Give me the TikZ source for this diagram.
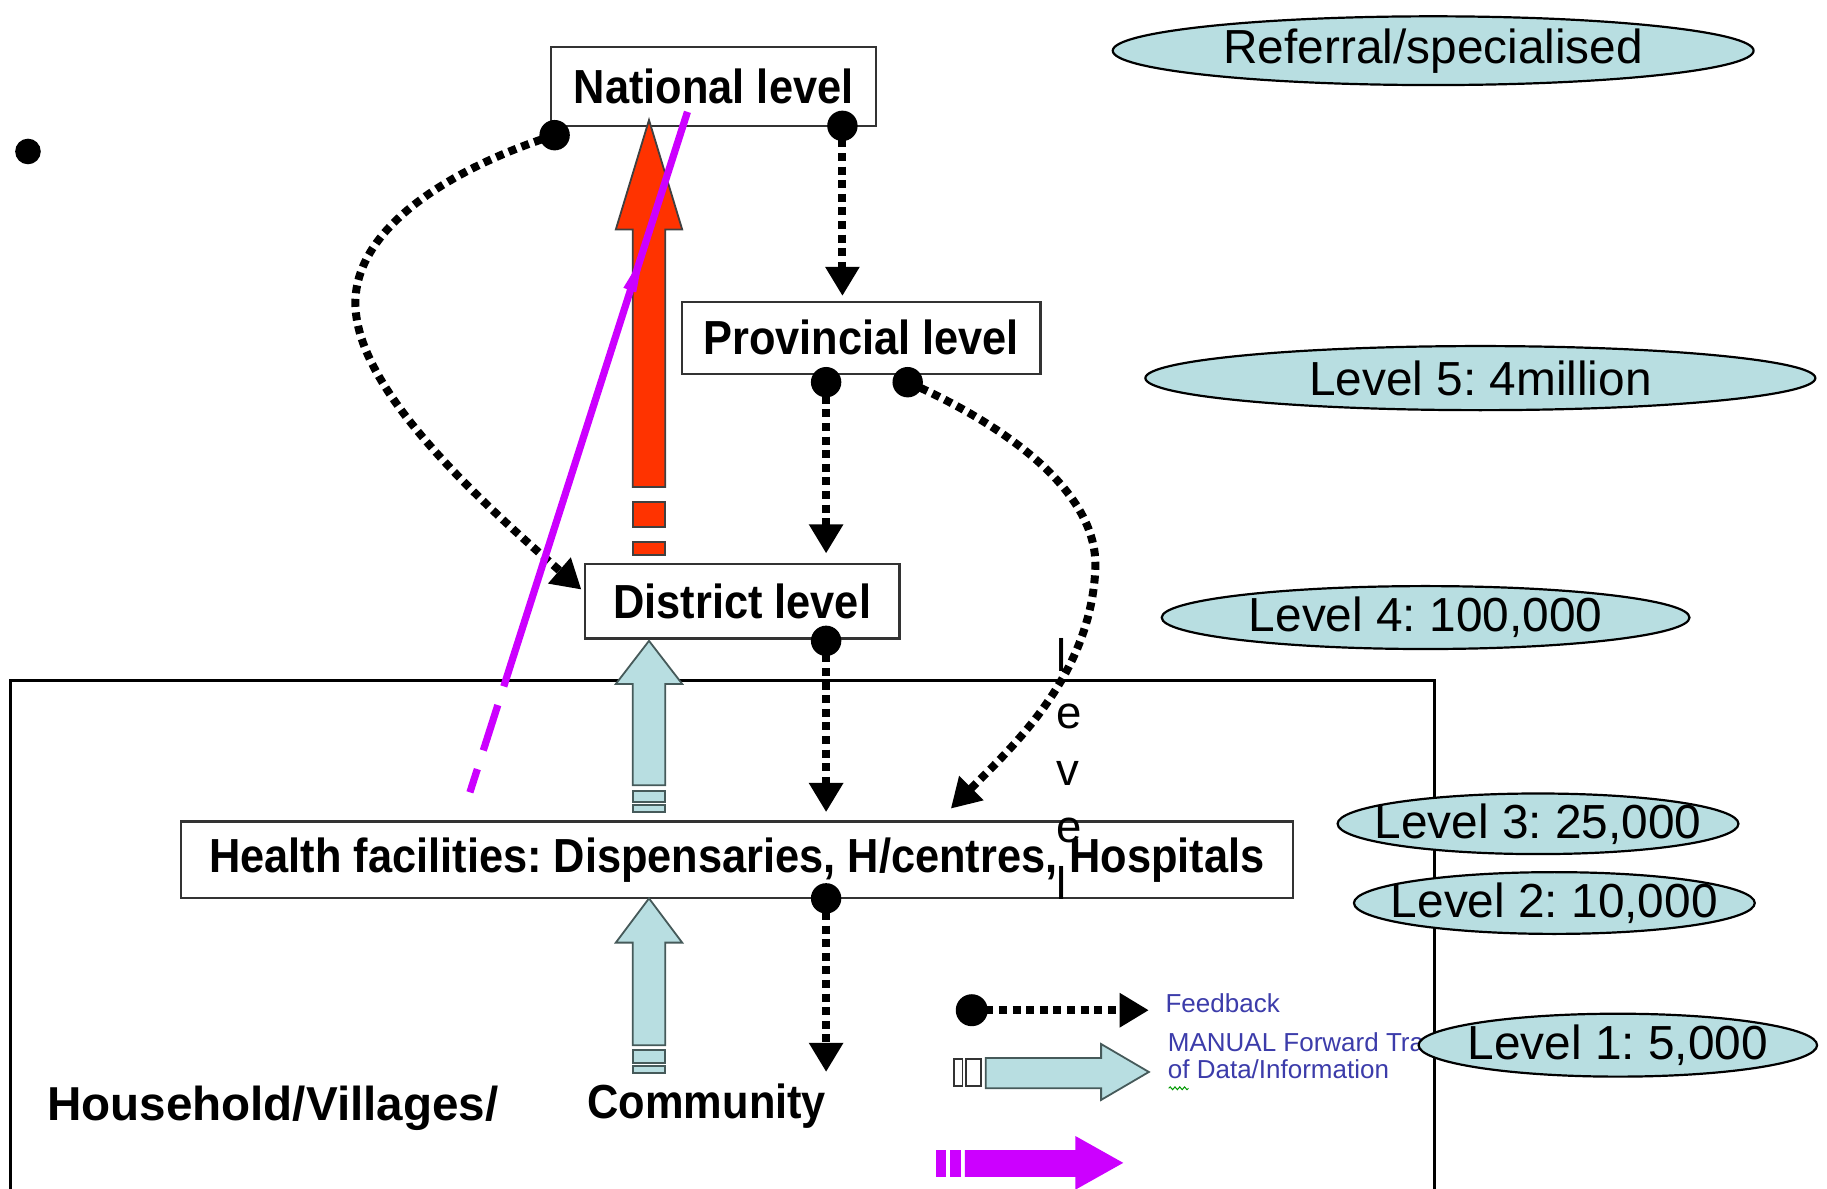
\documentclass[tikz,border=0pt]{standalone}
\usepackage{fontspec}
\setmainfont{Liberation Sans}
\newfontfamily\boxfont{Liberation Sans}[FakeStretch=0.907]
\usetikzlibrary{arrows.meta,shapes.geometric,decorations.pathmorphing}
\definecolor{lteal}{RGB}{184,222,225}
\definecolor{redorange}{RGB}{255,51,0}
\definecolor{magentaline}{RGB}{204,0,255}
\definecolor{legblue}{RGB}{60,60,170}
\definecolor{arrowedge}{RGB}{70,90,90}
\frenchspacing
\begin{document}
\begin{tikzpicture}[x=0.5826pt,y=-0.5826pt,
  lvlbox/.style={draw=black!80, line width=1.1pt, fill=white, inner sep=0pt,
    font=\boxfont\bfseries\fontsize{23.9}{28}\selectfont},
  lvlell/.style={ellipse, draw=black, line width=1.1pt, fill=lteal, inner sep=0pt,
    font=\fontsize{23.9}{28}\selectfont},
  fb/.style={line width=4pt, dash pattern=on 4pt off 2.8pt,
    -{Triangle[width=16.3pt,length=14.6pt]}},
  fbdot/.style={fill=black},
  blockblue/.style={fill=lteal, draw=arrowedge, line width=0.9pt},
  blockred/.style={fill=redorange, draw=black!75, line width=0.9pt},
  magline/.style={magentaline, line width=3.6pt,
    dash pattern=on 301.6pt off 9.8pt on 23.8pt off 9.8pt on 12.2pt},
  legtext/.style={text=legblue, inner sep=0pt, font=\fontsize{13}{13.4}\selectfont}
]
\clip (0,0) rectangle (1568,1020);
\fill[white] (0,0) rectangle (1568,1020);

% outer frame
\draw[line width=1.2pt] (9,584) rectangle (1231,1040);

% bullet
\fill (24,130) circle[radius=6.4pt];

% level boxes
\node[lvlbox, minimum width=279*0.5826pt, minimum height=68*0.5826pt] (nat) at (612.5,74) {National level};
\node[lvlbox, minimum width=308*0.5826pt, minimum height=62*0.5826pt] (prov) at (739,290) {Provincial level};
\node[lvlbox, minimum width=270*0.5826pt, minimum height=64*0.5826pt] (dist) at (637,516) {District level};
\node[lvlbox, minimum width=955*0.5826pt, minimum height=66*0.5826pt] (hf) at (632.5,738) {Health facilities: Dispensaries, H/centres, Hospitals};

% feedback connector end points
\coordinate (natL) at (476,116);
\coordinate (natR) at (723,108);
\coordinate (provTip) at (723,254);
\coordinate (provL) at (709,328);
\coordinate (provR) at (779,328);
\coordinate (distTip) at (709,475);
\coordinate (lcTip) at (499,506);
\coordinate (rcTip) at (816,694);
\coordinate (distD) at (709,550);
\coordinate (hfTip) at (709,697);
\coordinate (hfD) at (709,771);
\coordinate (comTip) at (709,920);

\draw[fb] (natL) .. controls (400,140) and (305,190) .. (305,260)
   .. controls (305,330) and (400,420) .. (lcTip);
\draw[fb] (natR) -- (provTip);
\draw[fb] (provL) -- (distTip);
\draw[fb] (provR) .. controls (830,350) and (945,410) .. (940,490)
   .. controls (935,580) and (870,640) .. (rcTip);
\draw[fb] (distD) -- (hfTip);
\draw[fb] (hfD) -- (comTip);
\foreach \p in {natL,natR,provL,provR,distD,hfD}
  \fill[fbdot] (\p) circle[radius=7.6pt];

% red block arrow (district -> national)
\draw[blockred] (557,103) -- (585.5,197) -- (571,197) -- (571,418) -- (543,418) -- (543,197) -- (528.5,197) -- cycle;
\draw[blockred] (543,431) rectangle (571,452);
\draw[blockred] (543,465) rectangle (571,476);

% blue block arrow (health facilities -> district)
\draw[blockblue] (557,550) -- (585.5,587) -- (571,587) -- (571,674) -- (543,674) -- (543,587) -- (528.5,587) -- cycle;
\draw[blockblue] (543,679) rectangle (571,688);
\draw[blockblue] (543,691) rectangle (571,697);

% blue block arrow (community -> health facilities)
\draw[blockblue] (557,771) -- (585.5,809) -- (571,809) -- (571,897) -- (543,897) -- (543,809) -- (528.5,809) -- cycle;
\draw[blockblue] (543,901) rectangle (571,912);
\draw[blockblue] (543,915) rectangle (571,921);

% magenta line
\coordinate (mTop) at (590,96);
\coordinate (mBot) at (403.3,680);
\draw[magline] (mTop) -- (mBot);
\fill[magentaline] (535,247) -- (546,251) -- (552,219) -- cycle;

% texts
\node[anchor=base west, inner sep=0pt, font=\bfseries\fontsize{23.8}{28}\selectfont] (hh) at (40,962) {Household/Villages/};
\node[anchor=base west, inner sep=0pt, font=\boxfont\bfseries\fontsize{23.9}{28}\selectfont] (com) at (504,960) {Community};
\node[anchor=north west, inner sep=0pt, align=left, font=\fontsize{22.8}{28.5}\selectfont] (lv) at (906,548) {l\\e\\v\\e\\l};

% legend
\coordinate (legDot) at (834,867);
\coordinate (legTip) at (986,867);
\draw[fb] (legDot) -- (legTip);
\fill[fbdot] (legDot) circle[radius=8pt];
\node[legtext, anchor=base west] (fbt) at (1000,869) {Feedback};
\node[legtext, anchor=north west, align=left] (mt) at (1002,886) {MANUAL Forward Transfer\\of Data/Information};
\draw[green!60!black, line width=0.5pt, decorate, decoration={snake, amplitude=0.7pt, segment length=2.4pt}] (1003,934) -- (1020,934);
\draw[blockblue] (986,920) -- (945,896) -- (945,908) -- (846,908) -- (846,934) -- (945,934) -- (945,944) -- cycle;
\draw[fill=white, draw=black!80, line width=0.9pt] (819,909) rectangle (826,932);
\draw[fill=white, draw=black!80, line width=0.9pt] (829,909) rectangle (842,932);
\fill[magentaline] (964,998) -- (923,975) -- (923,987) -- (828,987) -- (828,1010) -- (923,1010) -- (923,1021) -- cycle;
\fill[magentaline] (803,987) rectangle (812,1010);
\fill[magentaline] (815,987) rectangle (825,1010);

% population ellipses
\node[lvlell, minimum width=550*0.5826pt, minimum height=59*0.5826pt] (ref) at (1230,43.5) {\makebox[0pt][c]{Referral/specialised}};
\node[lvlell, minimum width=575*0.5826pt, minimum height=55*0.5826pt] (l5) at (1270.5,324.5) {\makebox[0pt][c]{Level 5: 4million}};
\node[lvlell, minimum width=453*0.5826pt, minimum height=54*0.5826pt] (l4) at (1223.5,530) {\makebox[0pt][c]{Level 4: 100,000}};
\node[lvlell, minimum width=344*0.5826pt, minimum height=52*0.5826pt] (l3) at (1320,707) {\makebox[0pt][c]{Level 3: 25,000}};
\node[lvlell, minimum width=344*0.5826pt, minimum height=53*0.5826pt] (l2) at (1334,775) {\makebox[0pt][c]{Level 2: 10,000}};
\node[lvlell, minimum width=342*0.5826pt, minimum height=54*0.5826pt] (l1) at (1388.5,897) {\makebox[0pt][c]{Level 1: 5,000}};
\end{tikzpicture}
\end{document}
